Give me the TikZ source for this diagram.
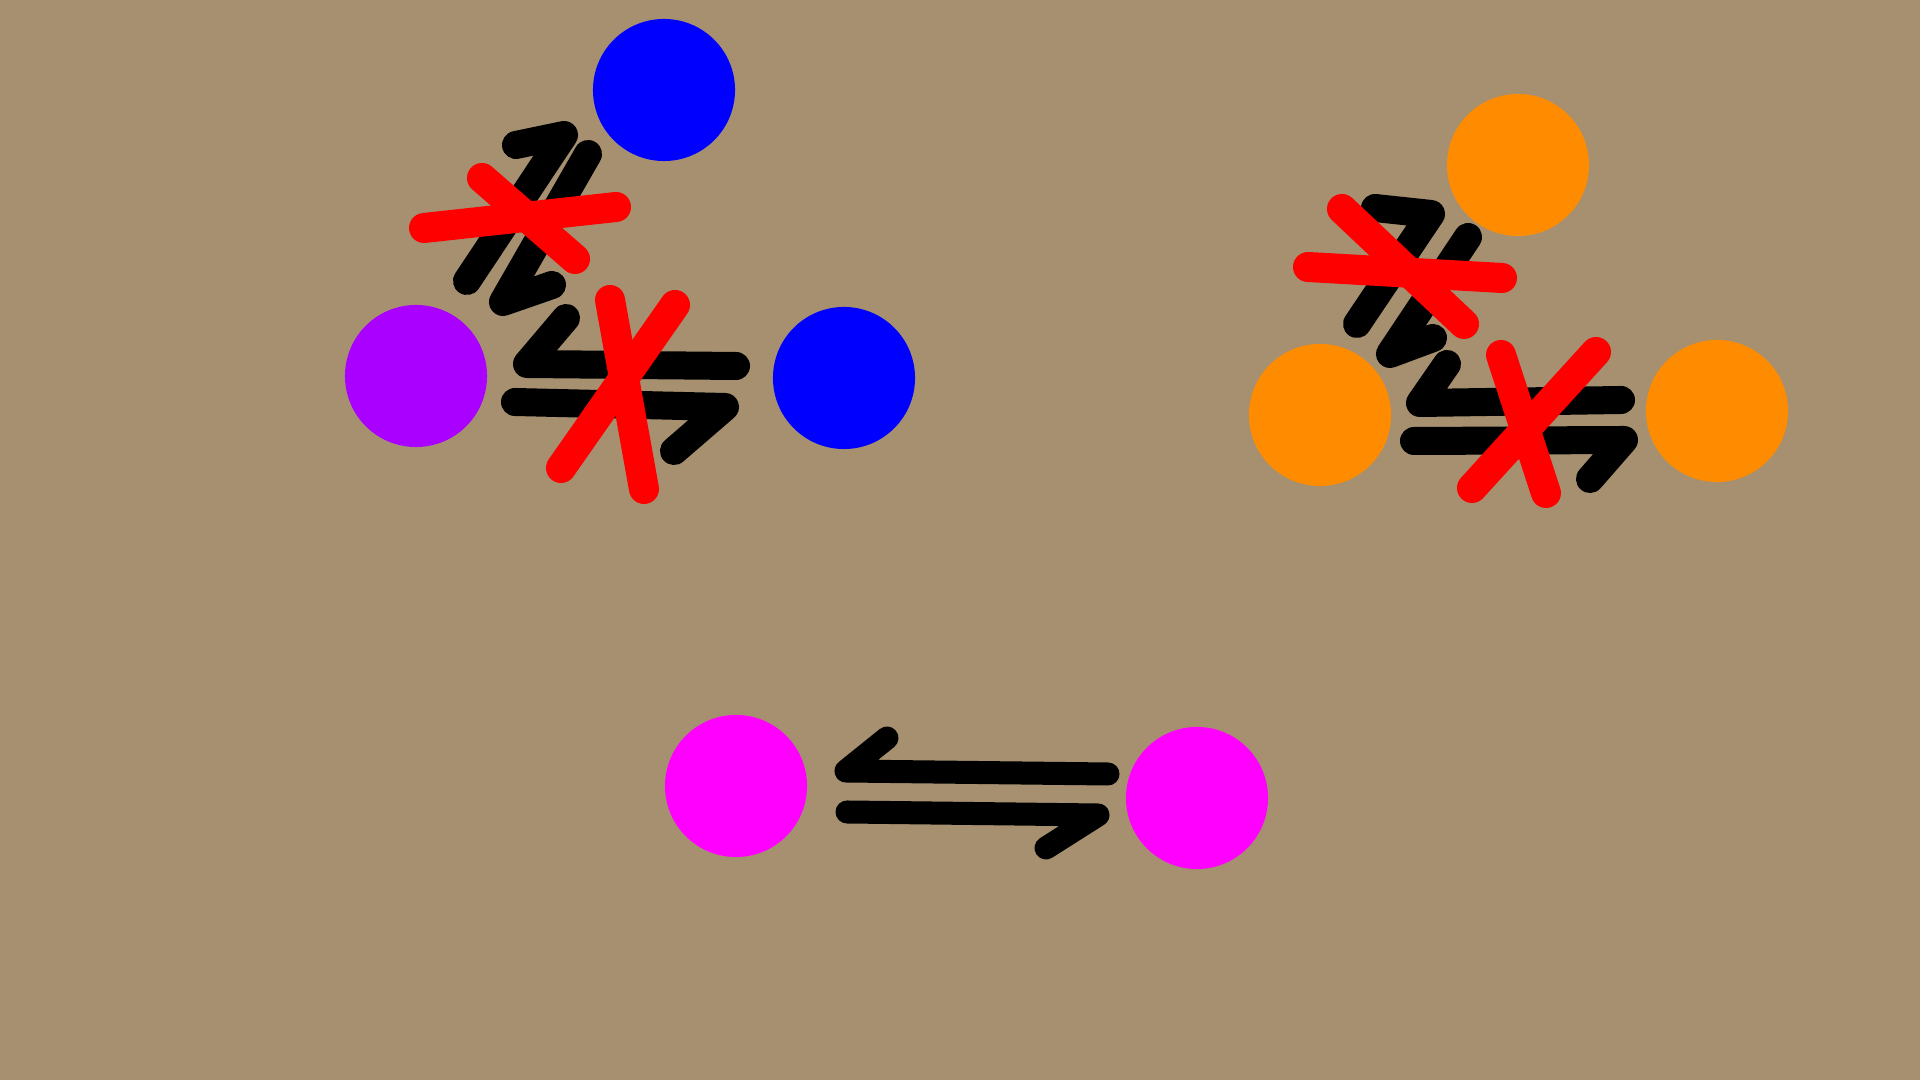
\documentclass[tikz,border=0pt]{standalone}
\definecolor{bgtan}{RGB}{166,144,112}
\definecolor{dotblue}{RGB}{0,0,255}
\definecolor{dotpurple}{RGB}{170,0,255}
\definecolor{dotorange}{RGB}{255,140,0}
\definecolor{dotmagenta}{RGB}{255,0,255}
\definecolor{crossred}{RGB}{255,0,0}
\begin{document}
\begin{tikzpicture}[x=0.01cm,y=-0.01cm,
  dot/.style={circle,inner sep=0pt,minimum size=1.42cm,draw=none},
  harp/.style={draw=black,line width=0.28cm,line cap=round,line join=round},
  harpsmall/.style={draw=black,line width=0.23cm,line cap=round,line join=round},
  cross/.style={draw=crossred,line width=0.30cm,line cap=round}]
\fill[bgtan] (0,0) rectangle (1920,1080);
\useasboundingbox (0,0) rectangle (1920,1080);

% ---------- left cluster ----------
\node[dot,fill=dotblue] (lt) at (664,90) {};
\node[dot,fill=dotpurple] (ll) at (416,376) {};
\node[dot,fill=dotblue] (lr) at (844,378) {};

\coordinate (la1) at (467,281); \coordinate (la2) at (564,135); \coordinate (la3) at (516,145);
\coordinate (lb1) at (588,154); \coordinate (lb2) at (503,302); \coordinate (lb3) at (552,285);
\coordinate (lc1) at (736,366); \coordinate (lc2) at (527,364); \coordinate (lc3) at (566,318);
\coordinate (ld1) at (515,402); \coordinate (ld2) at (725,407); \coordinate (ld3) at (674,451);
\path[harp] (la1) -- (la2) -- (la3);
\path[harp] (lb1) -- (lb2) -- (lb3);
\path[harp] (lc1) -- (lc2) -- (lc3);
\path[harp] (ld1) -- (ld2) -- (ld3);

\coordinate (lx1) at (424,228); \coordinate (lx2) at (616,207);
\coordinate (lx3) at (482,178); \coordinate (lx4) at (575,259);
\coordinate (lx5) at (610,300); \coordinate (lx6) at (644,489);
\coordinate (lx7) at (675,305); \coordinate (lx8) at (561,468);
\path[cross] (lx1) -- (lx2);
\path[cross] (lx3) -- (lx4);
\path[cross] (lx5) -- (lx6);
\path[cross] (lx7) -- (lx8);

% ---------- right cluster ----------
\node[dot,fill=dotorange] (rt) at (1518,165) {};
\node[dot,fill=dotorange] (rl) at (1320,415) {};
\node[dot,fill=dotorange] (rr) at (1717,411) {};

\coordinate (ra1) at (1357,324); \coordinate (ra2) at (1431,214); \coordinate (ra3) at (1375,208);
\coordinate (rb1) at (1468,237); \coordinate (rb2) at (1390,354); \coordinate (rb3) at (1433,338);
\coordinate (rc1) at (1621,400); \coordinate (rc2) at (1420,403); \coordinate (rc3) at (1447,364);
\coordinate (rd1) at (1414,441); \coordinate (rd2) at (1624,440); \coordinate (rd3) at (1590,479);
\path[harp] (ra1) -- (ra2) -- (ra3);
\path[harp] (rb1) -- (rb2) -- (rb3);
\path[harp] (rc1) -- (rc2) -- (rc3);
\path[harp] (rd1) -- (rd2) -- (rd3);

\coordinate (rx1) at (1308,267); \coordinate (rx2) at (1502,278);
\coordinate (rx3) at (1342,209); \coordinate (rx4) at (1464,324);
\coordinate (rx5) at (1501,355); \coordinate (rx6) at (1546,493);
\coordinate (rx7) at (1596,352); \coordinate (rx8) at (1472,488);
\path[cross] (rx1) -- (rx2);
\path[cross] (rx3) -- (rx4);
\path[cross] (rx5) -- (rx6);
\path[cross] (rx7) -- (rx8);

% ---------- bottom pair ----------
\node[dot,fill=dotmagenta] (bl) at (736,786) {};
\node[dot,fill=dotmagenta] (br) at (1197,798) {};

\coordinate (bu1) at (1108,774); \coordinate (bu2) at (846,771); \coordinate (bu3) at (887,738);
\coordinate (bd1) at (847,812); \coordinate (bd2) at (1098,815); \coordinate (bd3) at (1046,848);
\path[harpsmall] (bu1) -- (bu2) -- (bu3);
\path[harpsmall] (bd1) -- (bd2) -- (bd3);
\end{tikzpicture}
\end{document}
